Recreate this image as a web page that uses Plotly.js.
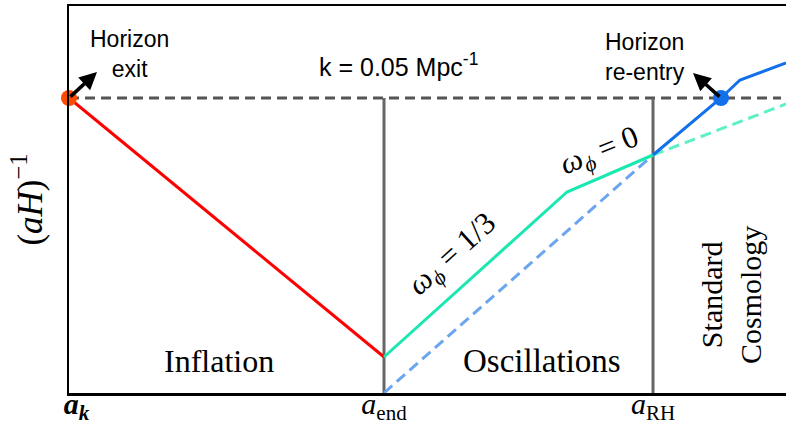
<!DOCTYPE html>
<html>
<head>
<meta charset="utf-8">
<script src="https://cdn.plot.ly/plotly-3.0.1.min.js"></script>
<style>html,body{margin:0;padding:0;background:#fff}#chart{width:786px;height:425px}</style>
</head>
<body>
<div id="chart"></div>
<script>
// Schematic comoving Hubble radius vs scale factor (arbitrary log units)
const tickVals = [0, 31.5, 58.4];
const tickLabels = ['&nbsp;&nbsp;<b><i>a</i><sub><i>k</i></sub></b>', '<i>a</i><sub>end</sub>', '<i>a</i><sub>RH</sub>'];
const horizonY = 29.5;
const horizonX = [0, 71.2];
const inflationX = [0, 31.5];
const inflationY = [29.5, 3.6];
const oscX = [31.5, 49.8, 58.4];
const oscY = [3.6, 20.1, 23.8];
const matterX = [31.5, 58.4];
const matterY = [0, 23.8];
const stdX = [58.4, 65.2, 67.1, 71.7];
const stdY = [23.8, 29.5, 31.3, 33.0];
const radExtX = [58.4, 71.7];
const radExtY = [23.8, 28.9];
const aEndLineY = [0, 29.5];
const exitPoint = [0, 29.5];
const reentryPoint = [65.2, 29.5];
const exitArrowTip = [2.8, 32.1];
const reentryArrowTip = [62.4, 32.0];

const serif = 'Liberation Serif, DejaVu Serif, serif';
const sans = 'Liberation Sans, Arial, sans-serif';

const traces = [
  {x: horizonX, y: [horizonY, horizonY], mode: 'lines', line: {color: '#555555', width: 3, dash: '10px,6px'}},
  {x: [tickVals[1], tickVals[1]], y: aEndLineY, mode: 'lines', line: {color: '#666666', width: 3}},
  {x: [tickVals[2], tickVals[2]], y: aEndLineY, mode: 'lines', line: {color: '#666666', width: 3}},
  {x: matterX, y: matterY, mode: 'lines', line: {color: '#6aa5ef', width: 3, dash: '11px,6px'}},
  {x: radExtX, y: radExtY, mode: 'lines', line: {color: '#5ef0c6', width: 3, dash: '11px,6px'}},
  {x: inflationX, y: inflationY, mode: 'lines', line: {color: '#ff0000', width: 3}},
  {x: oscX, y: oscY, mode: 'lines', line: {color: '#19e8b0', width: 3}},
  {x: stdX, y: stdY, mode: 'lines', line: {color: '#1170ea', width: 3}},
  {x: [exitPoint[0]], y: [exitPoint[1]], mode: 'markers', marker: {color: '#ff4a00', size: 16}, cliponaxis: false},
  {x: [reentryPoint[0]], y: [reentryPoint[1]], mode: 'markers', marker: {color: '#1170ea', size: 16}, cliponaxis: false}
];

const arrow = (tip, tail) => ({
  x: tip[0], y: tip[1], ax: tail[0], ay: tail[1], axref: 'x', ayref: 'y', xref: 'x', yref: 'y',
  text: '', showarrow: true, arrowhead: 2, arrowsize: 1, arrowwidth: 3.5, arrowcolor: '#000'
});

const layout = {
  width: 786, height: 425,
  margin: {l: 69, r: 0, t: 6, b: 32},
  paper_bgcolor: '#fff', plot_bgcolor: '#fff',
  showlegend: false,
  xaxis: {
    range: [0, 71.7], showgrid: false, zeroline: false,
    showline: true, linecolor: '#000', linewidth: 2.5, mirror: true,
    ticks: '', tickvals: tickVals, ticktext: tickLabels, ticklabelstandoff: -18,
    tickfont: {family: serif, size: 30, color: '#000'}, fixedrange: true
  },
  yaxis: {
    range: [0, 38.7], showgrid: false, zeroline: false,
    showline: true, linecolor: '#000', linewidth: 2.5,
    showticklabels: false, ticks: '', fixedrange: true,
    title: {text: '(<i>aH</i>)<sup>−1</sup>', font: {family: serif, size: 35, color: '#000'}, standoff: 14}
  },
  annotations: [
    arrow(exitArrowTip, exitPoint),
    arrow(reentryArrowTip, reentryPoint),
    {x: 6.0, y: 33.95, xref: 'x', yref: 'y', text: 'Horizon<br>exit', showarrow: false,
     font: {family: sans, size: 23, color: '#000'}, align: 'center'},
    {x: 57.6, y: 33.6, xref: 'x', yref: 'y', text: 'Horizon<br>re-entry', showarrow: false,
     font: {family: sans, size: 23, color: '#000'}, align: 'center'},
    {x: 32.9, y: 32.8, xref: 'x', yref: 'y', text: 'k = 0.05 Mpc<sup>-1</sup>', showarrow: false,
     font: {family: sans, size: 25, color: '#000'}},
    {x: 15.0, y: 3.2, xref: 'x', yref: 'y', text: 'Inflation', showarrow: false,
     font: {family: serif, size: 32, color: '#000'}},
    {x: 47.3, y: 3.2, xref: 'x', yref: 'y', text: 'Oscillations', showarrow: false,
     font: {family: serif, size: 33, color: '#000'}},
    {x: 66.2, y: 9.8, xref: 'x', yref: 'y', text: 'Standard<br>Cosmology', showarrow: false, textangle: -90,
     font: {family: serif, size: 30, color: '#000'}, align: 'center'},
    {x: 38.4, y: 13.8, xref: 'x', yref: 'y', text: '<i>ω</i><sub><i>ϕ</i></sub> = 1/3', showarrow: false, textangle: -42,
     font: {family: serif, size: 31, color: '#000'}},
    {x: 53.1, y: 24.1, xref: 'x', yref: 'y', text: '<i>ω</i><sub><i>ϕ</i></sub> = 0', showarrow: false, textangle: -22,
     font: {family: serif, size: 31, color: '#000'}}
  ]
};

Plotly.newPlot('chart', traces, layout, {displayModeBar: false, staticPlot: true});
</script>
</body>
</html>
